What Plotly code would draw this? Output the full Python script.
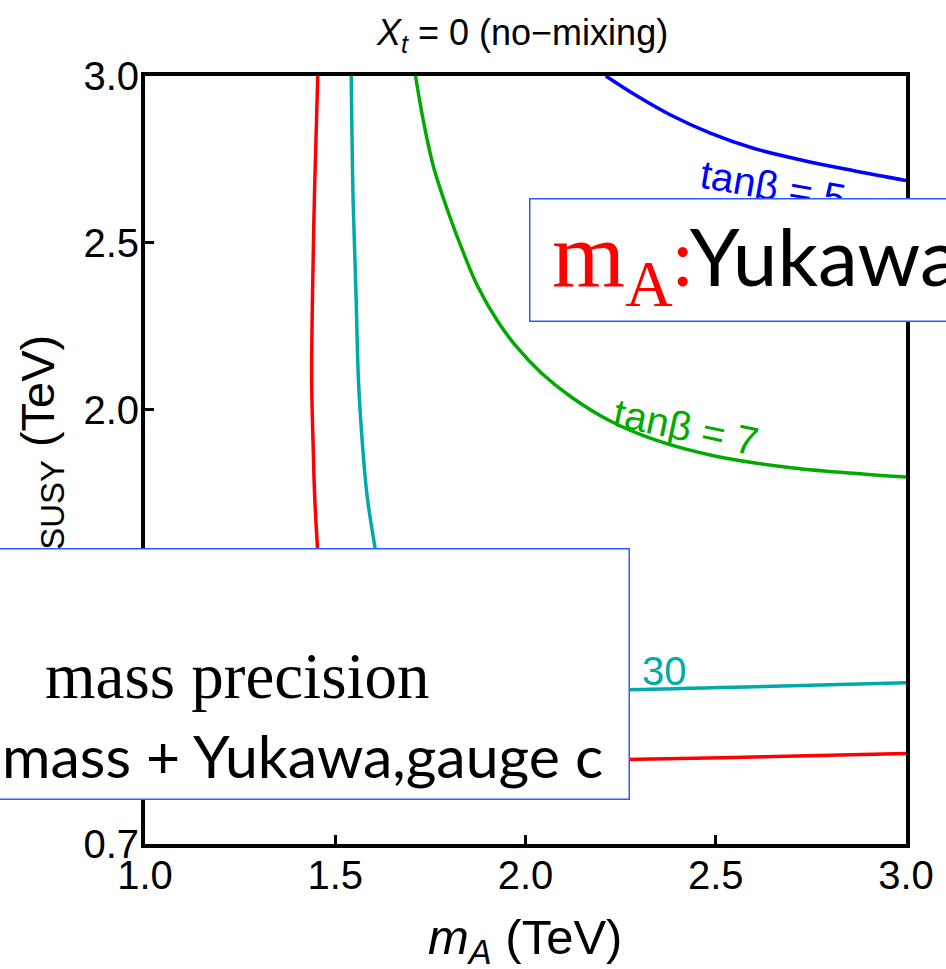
import plotly.graph_objects as go

# ---------------- data ----------------
x_ticks = [1.0, 1.5, 2.0, 2.5, 3.0]
x_tick_text = ["1.0", "1.5", "2.0", "2.5", "3.0"]
y_ticks = [0.7, 1.0, 1.5, 2.0, 2.5, 3.0]
y_tick_text = ["0.7", "1.0", "1.5", "2.0", "2.5", "3.0"]

# tan(beta) = 5 contour (blue)
tb5_mA = [2.211, 2.289, 2.380, 2.484, 2.601, 2.730, 2.860, 3.0]
tb5_ms = [3.0, 2.943, 2.884, 2.830, 2.783, 2.747, 2.717, 2.687]

# tan(beta) = 7 contour (green)
tb7_mA = [1.711, 1.732, 1.758, 1.796, 1.835, 1.874, 1.926, 1.978, 2.043, 2.121, 2.219, 2.341, 2.497, 2.704, 2.886, 3.0]
tb7_ms = [3.0, 2.863, 2.729, 2.595, 2.476, 2.371, 2.267, 2.187, 2.109, 2.038, 1.969, 1.910, 1.862, 1.826, 1.808, 1.799]

# tan(beta) = 30 contour (cyan)
tb30_mA = [1.542, 1.547, 1.555, 1.561, 1.572, 1.584, 1.604, 1.628, 1.667, 1.745, 1.926, 2.258, 2.627, 3.0]
tb30_ms = [3.0, 2.625, 2.327, 2.088, 1.889, 1.740, 1.591, 1.433, 1.284, 1.195, 1.165, 1.162, 1.172, 1.183]

# tan(beta) = 50 contour (red)
tb50_mA = [1.454, 1.446, 1.440, 1.438, 1.442, 1.446, 1.453, 1.464, 1.485, 1.537, 1.667, 1.926, 2.258, 2.627, 3.0]
tb50_ms = [3.0, 2.675, 2.327, 2.088, 1.889, 1.740, 1.591, 1.373, 1.165, 1.016, 0.962, 0.953, 0.953, 0.961, 0.971]

# ---------------- geometry helpers (pixels -> paper) ----------------
W, H = 946, 969
L, T, R, B = 145, 76, 912, 844   # plot area (frame lines drawn just outside)


def pxx(px):
    return (px - L) / (R - L)


def pxy(py):
    return (B - py) / (B - T)


SANS = "Liberation Sans, Arial, sans-serif"
BOXBLUE = "#2E5BFF"

fig = go.Figure()
for xs, ys, col in [
    (tb5_mA, tb5_ms, "#0000FF"),
    (tb7_mA, tb7_ms, "#00AA00"),
    (tb30_mA, tb30_ms, "#00AAAA"),
    (tb50_mA, tb50_ms, "#FF0000"),
]:
    fig.add_trace(go.Scatter(x=xs, y=ys, mode="lines",
                             line=dict(color=col, width=3.5, shape="spline", smoothing=1.0),
                             hoverinfo="skip", showlegend=False))

C = dict(xanchor="center", yanchor="middle", showarrow=False)
ann = []
# contour labels
ann.append(dict(x=2.650, y=2.672, xref="x", yref="y", text="tanβ = 5", textangle=10,
                font=dict(family=SANS, size=40, color="#0000FF"), **C))
ann.append(dict(x=2.4215, y=1.950, xref="x", yref="y", text="tanβ = 7", textangle=12,
                font=dict(family=SANS, size=40, color="#00AA00"), **C))
ann.append(dict(x=2.364, y=1.218, xref="x", yref="y", text="30",
                font=dict(family=SANS, size=40, color="#00AAAA"), **C))
# titles
ann.append(dict(x=pxx(525), y=pxy(35), xref="paper", yref="paper",
                text="<i>X<sub>t</sub></i> = 0 (no−mixing)",
                font=dict(family=SANS, size=36, color="black"), **C))
ann.append(dict(x=pxx(528), y=pxy(940), xref="paper", yref="paper",
                text="<i>m<sub>A</sub></i> (TeV)",
                font=dict(family=SANS, size=49, color="black"), **C))
ann.append(dict(x=pxx(40), y=pxy(462), xref="paper", yref="paper", textangle=-90,
                text="<i>M</i><sub>SUSY</sub> (TeV)",
                font=dict(family=SANS, size=47, color="black"), **C))
# overlay box 1
ann.append(dict(x=pxx(532), y=pxy(198), xref="paper", yref="paper", xanchor="left", yanchor="top",
                text="\u00a0", showarrow=False, width=560, height=121, borderpad=0,
                bgcolor="white", bordercolor=BOXBLUE, borderwidth=1.5))
ann.append(dict(x=pxx(553), y=pxy(261), xref="paper", yref="paper", xanchor="left", yanchor="middle",
                text="<span style='font-family:Liberation Serif;font-size:94px;color:#FF0000'>m<sub>A</sub></span>"
                     "<span style='color:#FF0000'>:</span>Yukawa",
                showarrow=False, font=dict(family="Lato", size=80, color="black")))
# overlay box 2
ann.append(dict(x=pxx(-10), y=pxy(548), xref="paper", yref="paper", xanchor="left", yanchor="top",
                text="\u00a0", showarrow=False, width=636, height=249, borderpad=0,
                bgcolor="white", bordercolor=BOXBLUE, borderwidth=1.5))
ann.append(dict(x=pxx(42), y=pxy(676), xref="paper", yref="paper", xanchor="left", yanchor="middle",
                text="mass precision", showarrow=False,
                font=dict(family="Liberation Serif", size=65, color="black")))
ann.append(dict(x=pxx(-1), y=pxy(755), xref="paper", yref="paper", xanchor="left", yanchor="middle",
                text="mass + Yukawa,gauge c", showarrow=False,
                font=dict(family="Lato", size=59, color="black")))

axis_common = dict(showgrid=False, zeroline=False, showline=True, linewidth=4, linecolor="black",
                   mirror=True, ticks="inside", ticklen=9, tickwidth=3, tickcolor="black",
                   tickfont=dict(family=SANS, size=40, color="black"))

fig.update_layout(
    width=W, height=H,
    margin=dict(l=L, r=W - R, t=T, b=H - B, pad=0),
    plot_bgcolor="white", paper_bgcolor="white",
    showlegend=False,
    xaxis=dict(range=[1.0, 3.0], tickvals=x_ticks, ticktext=x_tick_text, ticklabelstandoff=-7, **axis_common),
    yaxis=dict(range=[0.7, 3.0], tickvals=y_ticks, ticktext=y_tick_text, ticklabelstandoff=-6, **axis_common),
    annotations=ann,
)

fig.write_html("out.html")
